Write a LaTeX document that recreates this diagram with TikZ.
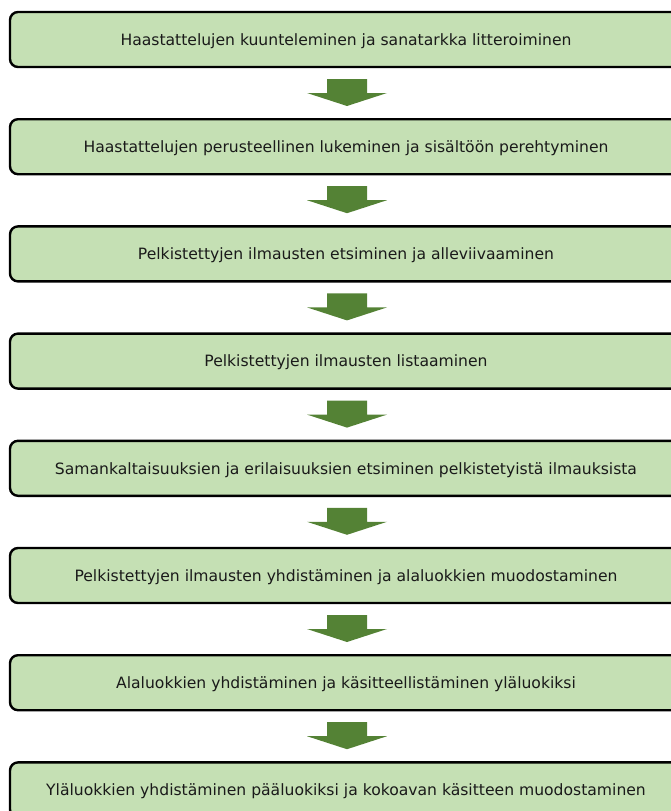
\documentclass[tikz,border=0pt]{standalone}
\usepackage{fontspec}
\setmainfont{DejaVu Sans}
\definecolor{boxfill}{HTML}{C5E0B4}
\definecolor{arrowgreen}{HTML}{548235}
\definecolor{txt}{HTML}{1A1A1A}
\begin{document}
\begin{tikzpicture}[x=1pt,y=-1pt,
  stepbox/.style={draw=black,line width=2.4pt,fill=boxfill,rounded corners=8pt,
    minimum width=672pt,minimum height=55pt,inner sep=0pt,
    text height=11.5pt,text depth=0pt,
    font=\fontsize{15.6}{18}\selectfont,text=txt},
  downarrow/.style={fill=arrowgreen}]
\useasboundingbox (0,0) rectangle (671,811);
\foreach \i/\t in {1/{Haastattelujen kuunteleminen ja sanatarkka litteroiminen},
  2/{Haastattelujen perusteellinen lukeminen ja sisältöön perehtyminen},
  3/{Pelkistettyjen ilmausten etsiminen ja alleviivaaminen},
  4/{Pelkistettyjen ilmausten listaaminen},
  5/{Samankaltaisuuksien ja erilaisuuksien etsiminen pelkistetyistä ilmauksista},
  6/{Pelkistettyjen ilmausten yhdistäminen ja alaluokkien muodostaminen},
  7/{Alaluokkien yhdistäminen ja käsitteellistäminen yläluokiksi},
  8/{Yläluokkien yhdistäminen pääluokiksi ja kokoavan käsitteen muodostaminen}}{
  \node[stepbox] (b\i) at (346,{39.5+107.2*(\i-1)}) {\t};
}
\foreach \i in {1,...,7}{
  \coordinate (a\i) at (347,{79+107.2*(\i-1)});
  \fill[downarrow] (a\i) ++(-20,0) -- ++(40,0) -- ++(0,14) -- ++(20,0)
    -- ++(-40,13) -- ++(-40,-13) -- ++(20,0) -- cycle;
}
\end{tikzpicture}
\end{document}
